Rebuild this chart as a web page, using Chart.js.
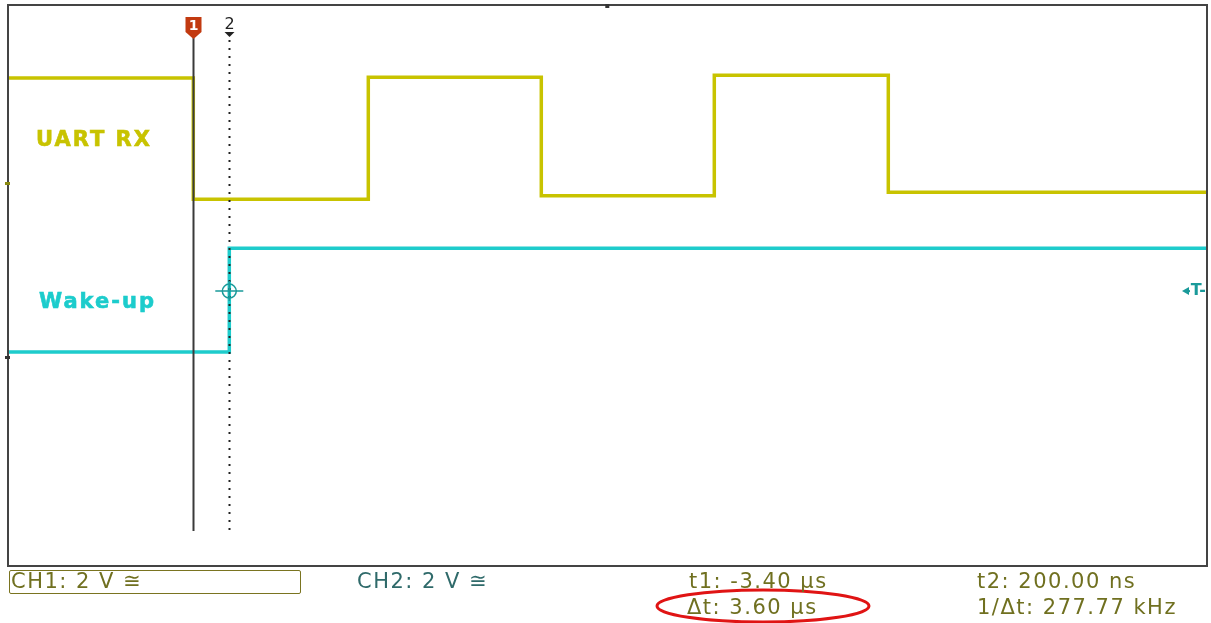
<!DOCTYPE html>
<html>
<head>
<meta charset="utf-8">
<style>
  body { margin: 0; background: #fff; }
  #wrap { position: relative; width: 1211px; height: 623px; overflow: hidden; }
  canvas#scope { position: absolute; left: 0; top: 0; }
  .lbl { position: absolute; font-family: "DejaVu Sans", sans-serif; white-space: nowrap; }
  .trace { font-weight: bold; font-size: 21px; letter-spacing: 2px; -webkit-text-stroke: 0.6px currentColor; }
  .status { font-size: 21px; letter-spacing: 1.5px; color: #707020; line-height: 24px; }
  #ch1box { position: absolute; left: 9px; top: 570px; width: 290px; height: 22px;
            border: 1.5px solid #7a7420; border-radius: 2px; }
</style>
</head>
<body>
<div id="wrap">
  <canvas id="scope" width="1211" height="623"></canvas>
  <div class="lbl trace" style="left:36px; top:127px; color:#c8c300;">UART RX</div>
  <div class="lbl trace" style="left:39px; top:289px; color:#1ccccc;">Wake-up</div>

  <div id="ch1box"></div>
  <div class="lbl status" style="left:11px; top:569px;">CH1: 2 V ≅</div>
  <div class="lbl status" style="left:357px; top:569px; color:#2f6a6a;">CH2: 2 V ≅</div>
  <div class="lbl status" style="left:689px; top:569px;">t1: -3.40 µs</div>
  <div class="lbl status" style="left:687px; top:595px;">Δt: 3.60 µs</div>
  <div class="lbl status" style="left:977px; top:569px;">t2: 200.00 ns</div>
  <div class="lbl status" style="left:977px; top:595px;">1/Δt: 277.77 kHz</div>
</div>

<script src="https://cdn.jsdelivr.net/npm/chart.js"></script>
<script>
  // time axis in µs, vertical axis in screen divisions (0 = bottom, 8 = top)
  const timeRange = [-21.93, 97.97];
  const divRange = [0, 8];

  // CH1 (UART RX): edge times and the level of each segment between them
  const uartEdges = [-3.4, 14.1, 31.4, 48.7, 66.1];
  const uartLevels = [6.96, 5.23, 6.97, 5.28, 7.00, 5.33];

  // CH2 (Wake-up)
  const wakeEdges = [0.2];
  const wakeLevels = [3.05, 4.53];

  // cursors and trigger
  const cursor1 = -3.4;
  const cursor2 = 0.2;
  const trigTime = 0.2;
  const trigLevel = 3.92;

  function stepPoints(edges, levels) {
    const pts = [{ x: timeRange[0], y: levels[0] }];
    edges.forEach((t, i) => {
      pts.push({ x: t, y: levels[i] });
      pts.push({ x: t, y: levels[i + 1] });
    });
    pts.push({ x: timeRange[1], y: levels[levels.length - 1] });
    return pts;
  }

  const scopeDecor = {
    id: 'scopeDecor',
    afterDatasetsDraw(chart) {
      const { ctx, chartArea: a, scales: { x, y } } = chart;
      ctx.save();

      // cursor 1 (solid) and its red tag
      const c1 = Math.round(x.getPixelForValue(cursor1)) + 0.5;
      ctx.strokeStyle = '#3a3a3a';
      ctx.lineWidth = 2;
      ctx.beginPath(); ctx.moveTo(c1, 38); ctx.lineTo(c1, 531); ctx.stroke();
      ctx.fillStyle = '#c23a10';
      ctx.beginPath();
      ctx.moveTo(c1 - 8, 17); ctx.lineTo(c1 + 8, 17); ctx.lineTo(c1 + 8, 32);
      ctx.lineTo(c1, 39); ctx.lineTo(c1 - 8, 32); ctx.closePath(); ctx.fill();
      ctx.fillStyle = '#fff';
      ctx.font = 'bold 14px "DejaVu Sans"';
      ctx.textAlign = 'center'; ctx.textBaseline = 'middle';
      ctx.fillText('1', c1, 26);

      // cursor 2 (dotted) with label
      const c2 = Math.round(x.getPixelForValue(cursor2)) + 0.5;
      ctx.strokeStyle = '#222';
      ctx.lineWidth = 2;
      ctx.setLineDash([2, 6]);
      ctx.beginPath(); ctx.moveTo(c2, 40); ctx.lineTo(c2, 531); ctx.stroke();
      ctx.setLineDash([]);
      ctx.fillStyle = '#222';
      ctx.font = '16px "DejaVu Sans"';
      ctx.fillText('2', c2, 25);
      ctx.beginPath();
      ctx.moveTo(c2 - 5, 32); ctx.lineTo(c2 + 5, 32); ctx.lineTo(c2, 37); ctx.closePath(); ctx.fill();

      // trigger point marker
      const tx = x.getPixelForValue(trigTime), ty = y.getPixelForValue(trigLevel);
      ctx.strokeStyle = '#1a9a9a';
      ctx.lineWidth = 1.5;
      ctx.beginPath(); ctx.arc(tx, ty, 7, 0, Math.PI * 2); ctx.stroke();
      ctx.beginPath();
      ctx.moveTo(tx - 14, ty); ctx.lineTo(tx + 14, ty);
      ctx.moveTo(tx, ty - 10); ctx.lineTo(tx, ty + 10);
      ctx.stroke();

      // trigger level indicator on right edge
      ctx.fillStyle = '#1a9a9a';
      ctx.font = 'bold 16px "DejaVu Sans"';
      ctx.textAlign = 'right';
      ctx.fillText('T-', a.right - 1, ty);
      ctx.beginPath();
      ctx.moveTo(a.right - 25, ty); ctx.lineTo(a.right - 18, ty - 4); ctx.lineTo(a.right - 18, ty + 4);
      ctx.closePath(); ctx.fill();
      ctx.fillRect(a.right - 20, ty - 1, 3, 2);

      // frame
      ctx.strokeStyle = '#444';
      ctx.lineWidth = 2;
      ctx.strokeRect(a.left, a.top, a.right - a.left, a.bottom - a.top);

      // small edge markers
      ctx.fillStyle = '#333';
      ctx.fillRect(x.getPixelForValue(38) - 2, a.top - 1, 4, 4);
      ctx.fillStyle = '#8a8a10';
      ctx.fillRect(a.left - 3, 182, 5, 3);
      ctx.fillStyle = '#333';
      ctx.fillRect(a.left - 3, 356, 5, 3);

      // red ellipse around Δt
      ctx.strokeStyle = '#e01414';
      ctx.lineWidth = 3;
      ctx.beginPath(); ctx.ellipse(763, 606, 106, 16, 0, 0, Math.PI * 2); ctx.stroke();

      ctx.restore();
    }
  };

  new Chart(document.getElementById('scope'), {
    type: 'line',
    data: {
      datasets: [
        {
          label: 'UART RX',
          data: stepPoints(uartEdges, uartLevels),
          borderColor: '#c8c300',
          borderWidth: 3.5,
          pointRadius: 0,
          tension: 0
        },
        {
          label: 'Wake-up',
          data: stepPoints(wakeEdges, wakeLevels),
          borderColor: '#1ecccc',
          borderWidth: 3.5,
          pointRadius: 0,
          tension: 0
        }
      ]
    },
    options: {
      responsive: false,
      animation: false,
      layout: { padding: { left: 8, top: 5, right: 4, bottom: 57 } },
      scales: {
        x: { type: 'linear', min: timeRange[0], max: timeRange[1], display: false },
        y: { min: divRange[0], max: divRange[1], display: false }
      },
      plugins: { legend: { display: false }, tooltip: { enabled: false } }
    },
    plugins: [scopeDecor]
  });
</script>
</body>
</html>
